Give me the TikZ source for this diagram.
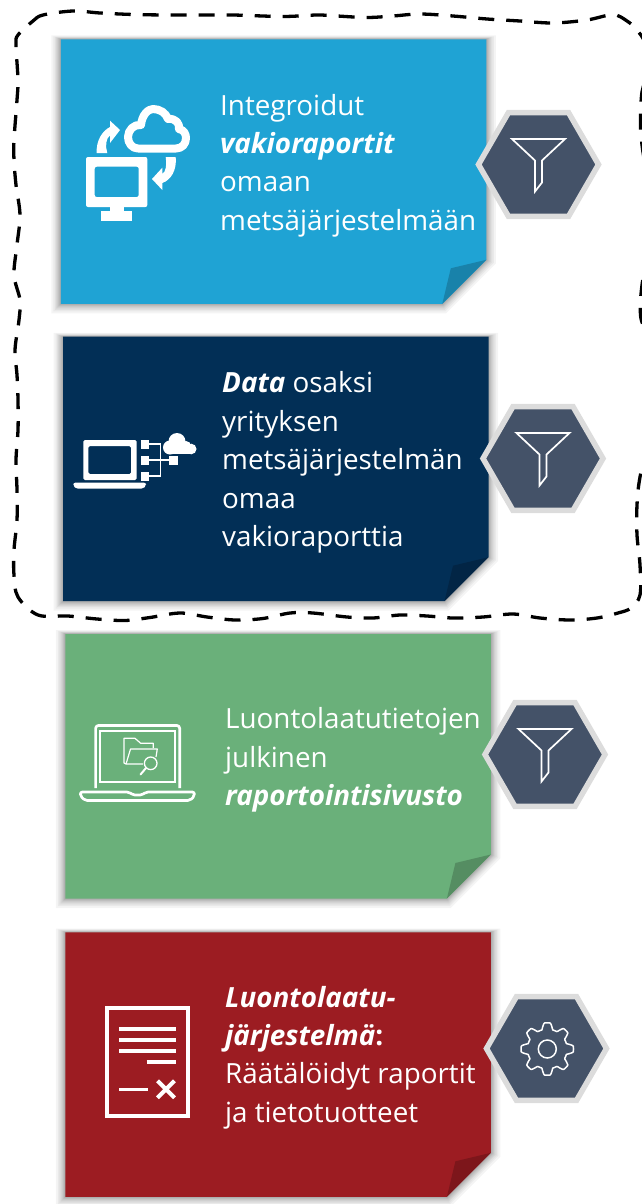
\documentclass[tikz,border=0pt]{standalone}
\usepackage{fontspec}
\setmainfont{Open Sans}
\usetikzlibrary{positioning,shapes.geometric}
\definecolor{noteblue}{HTML}{1FA3D4}
\definecolor{notenavy}{HTML}{022F56}
\definecolor{notegreen}{HTML}{6AB07A}
\definecolor{notered}{HTML}{9C1C22}
\definecolor{hexfill}{HTML}{445268}
\definecolor{hexedge}{HTML}{DCDCDC}
\tikzstyle{hexa} = [regular polygon, regular polygon sides=6, minimum size=120pt, inner sep=0pt, draw=hexedge, line width=5.5pt, fill=hexfill]
\tikzstyle{notetext} = [anchor=west, align=left, text=white, inner sep=0pt, font=\fontsize{27.8pt}{38.4pt}\selectfont]
\tikzstyle{dashframe} = [draw=black, line width=3.3pt, dash pattern=on 16pt off 12pt]
\tikzstyle{iconline} = [draw=white, line width=2.7pt]
\tikzstyle{funnel} = [draw=white, line width=1.7pt, line join=miter]
% card: left, top, colour
\newcommand{\notecard}[3]{%
  \foreach \d in {0.7,1.4,2.1,2.9,3.8,4.8,6,7.5,9.5} {
    \fill[black, opacity=.042] (#1-\d,#2-.4*\d) -- (#1+425.5+\d,#2-.4*\d) -- (#1+425.5+\d,#2+220.5+.4*\d) -- (#1+381.5+.4*\d,#2+264.5+\d) -- (#1-\d,#2+264.5+\d) -- cycle;
  }
  \fill[#3] (#1,#2) -- (#1+425.5,#2) -- (#1+425.5,#2+220.5) -- (#1+381.5,#2+264.5) -- (#1,#2+264.5) -- cycle;
  \fill[#3!80!black] (#1+425.5,#2+220.5) -- (#1+390,#2+229) -- (#1+381.5,#2+264.5) -- cycle;
}
\newcommand{\funnelicon}[1]{%
  \draw[funnel] ([shift={(-26.5,-25.5)}]#1.center) -- ++(53,0) -- ++(-23,21.5) -- ++(0,22) -- ++(-7,9) -- ++(0,-31) -- cycle;
}
\begin{document}
\begin{tikzpicture}[x=1pt,y=-1pt,node distance=294pt,declare function={gearr(\t)=23+3.2*max(-1,min(1,1.7*cos(8*\t)));}]
\useasboundingbox (0,0) rectangle (641,1204);

\draw[dashframe] plot[smooth cycle, tension=.55] coordinates {(18,35) (33,21) (43,15) (73,11) (100,13) (133,14.5) (167,15) (200,15) (233,15) (283,16.5) (317,15) (337,16) (367,17.5) (393,16) (420,14) (453,16) (487,19) (520,21) (553,23) (587,20) (613,14.7) (627,21) (637,30) (646,45) (648,70) (642,92) (640.5,120) (642,145) (652,220) (642,285) (640.5,315) (646,340) (652,420) (640,477) (637,505) (637,535) (640,565) (640,595) (631,608) (618,613) (597,618) (570,620) (540,618) (513,614) (483,617) (453,618) (427,616) (400,615) (373,618) (347,617) (313,613) (290,613) (263,618.5) (235,620) (207,617) (180,613) (150,617.5) (125,620.5) (97,619) (68,616) (38,615) (18,597) (14,575) (14,550) (17,520) (17,490) (16,460) (18,430) (18,400) (17,375) (15,350) (19,320) (20,300) (14,275) (17,245) (20,215) (16,185) (14,160) (14,140) (17,100) (18,80) (16,45)};

\notecard{60.8}{39.3}{noteblue}
\notecard{63}{336.7}{notenavy}
\notecard{65.4}{634}{notegreen}
\notecard{65.4}{932.3}{notered}

\node (hexA) [hexa] at (538.5,164.5) {};
\node (hexB) [hexa, below of=hexA, xshift=4.5pt] {};
\node (hexC) [hexa, below of=hexB, xshift=2pt, yshift=-2pt] {};
\node (hexD) [hexa, below of=hexC, xshift=1.5pt] {};
\funnelicon{hexA}
\funnelicon{hexB}
\funnelicon{hexC}

% gear
\draw[white, line width=1.5pt, line join=round] plot[domain=0:358, samples=180] ({547.3+gearr(\x)*cos(\x)},{1049+gearr(\x)*sin(\x)}) -- cycle;
\draw[white, line width=1.5pt] (547.3,1049) circle (9);

\node (textA) [notetext] at (220,165.5) {Integroidut\\\textbf{\textit{vakioraportit}}\\omaan\\metsäjärjestelmään};
\node (textB) [notetext] at (222,462.5) {\textbf{\textit{Data}} osaksi\\yrityksen\\metsäjärjestelmän\\omaa\\vakioraporttia};
\node (textC) [notetext] at (225,760) {Luontolaatutietojen\\julkinen\\\textbf{\textit{raportointisivusto}}};
\node (textD) [notetext] at (225,1057.5) {\textbf{\textit{Luontolaatu-}}\\\textbf{\textit{järjestelmä}}\textbf{:}\\Räätälöidyt raportit\\ja tietotuotteet};

% monitor and cloud
\fill[white, rounded corners=2pt, even odd rule] (86,157) rectangle (147.3,207) (94.7,166.7) rectangle (138.7,197);
\fill[white] (110,206) rectangle (124,212);
\fill[white] (101,211) rectangle (132,220.7);
\draw[white, line width=8pt, line join=round] (138,148.5) .. controls (132,148.5) and (128,143) .. (128,137) .. controls (128,130) and (134,124) .. (141,125) .. controls (142,115) and (148,109) .. (153,109) .. controls (160,109) and (166,113) .. (168,119) .. controls (176,118) and (180,124) .. (179,129) .. controls (184,130) and (186,134) .. (186,138) .. controls (186,144) and (182,148.5) .. (176,148.5) -- cycle;
\fill[white] (96.7,153) .. controls (96,141) and (102,131) .. (110,127) -- (110,120.7) -- (120,130) -- (110,143) -- (110,135.5) .. controls (106,138) and (105,146) .. (107.3,153) -- cycle;
\fill[white] (175.7,157) .. controls (177,170) and (171,180) .. (162.3,183) -- (162.3,190) -- (152,179) -- (162.3,167.7) -- (162.3,174) .. controls (166,172) and (167,164) .. (165.7,157) -- cycle;

% laptop and cloud
\fill[white, rounded corners=1.5pt, even odd rule] (83.3,440) rectangle (136.7,480) (88.3,446) rectangle (131,474);
\fill[white, rounded corners=2pt] (73.3,482.7) -- (146,482.7) -- (146,486) -- (143,488.7) -- (76,488.7) -- (73.3,486) -- cycle;
\fill[white] (140.7,440) rectangle (149,448.7);
\fill[white] (140.7,456) rectangle (149,465);
\fill[white] (140.7,471.7) rectangle (149,481);
\fill[white] (169,456) rectangle (177.7,465);
\draw[white, line width=1.3pt] (149,444) -- (160.5,444) -- (160.5,476) -- (149,476) (149,460) -- (169,460);
\foreach \cx/\cy/\cr in {170/447.5/7, 177/441.5/8.5, 186/446/5, 191.2/449/5.3}
  \fill[white] (\cx,\cy) circle (\cr);
\fill[white] (170,447) rectangle (191,454.3);

% laptop with folder
\draw[iconline, line join=round, rounded corners=3pt] (95.6,788) -- (95.6,725.4) -- (179.7,725.4) -- (179.7,788);
\draw[white, line width=2pt] (100,730.7) rectangle (175,782);
\draw[iconline, line join=round, rounded corners=2pt] (80.4,792) -- (129,792) -- (133,795) -- (142,795) -- (146,792) -- (194.4,792) -- (194.4,796) -- (190,800.4) -- (85,800.4) -- (80.4,796) -- cycle;
\draw[white, line width=1.2pt, line join=round] (143,764) -- (126,764) -- (124,763) -- (124,738.3) -- (135,738.3) -- (140.7,743.3) -- (153.3,743.3) -- (153.3,748);
\draw[white, line width=1.2pt, line join=round] (126,764) -- (130.5,749) -- (157.3,749) -- (156,757);
\draw[white, line width=1.3pt] (150.7,763.3) circle (6.3);
\draw[white, line width=2pt, line cap=round] (146,768) -- (140.5,774.5);

% report sheet
\draw[white, line width=3.8pt] (107,1008) rectangle (188,1116.3);
\draw[white, line width=3.6pt] (119,1028.7) -- (176,1028.7) (119,1039.7) -- (176,1039.7) (119,1050.7) -- (176,1050.7) (146.7,1061.7) -- (176,1061.7) (119,1089.3) -- (148,1089.3);
\draw[white, line width=4pt] (157.5,1080.8) -- (174.5,1097.8) (157.5,1097.8) -- (174.5,1080.8);

\end{tikzpicture}
\end{document}
